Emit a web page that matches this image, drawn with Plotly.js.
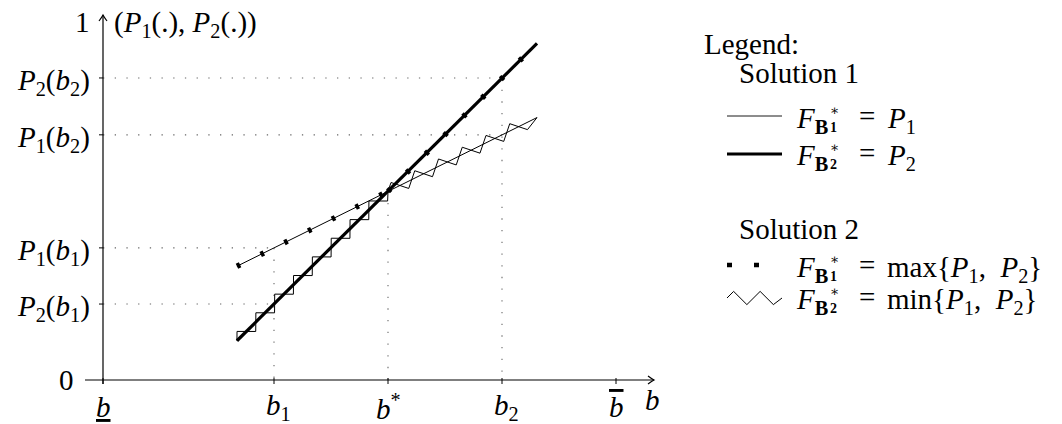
<!DOCTYPE html>
<html><head><meta charset="utf-8">
<script src="https://cdn.plot.ly/plotly-3.0.1.min.js"></script>
<style>html,body{margin:0;padding:0;background:#fff}#chart{width:1062px;height:424px}</style>
</head><body><div id="chart"></div>
<script>
// ---------------- data ----------------
const segB   = [1.175, 2.5, 3.807];        // start, b*, end of drawn lines
const p1Vals = [0.316, 0.524, 0.729];      // P1 at segB
const p2Vals = [0.109, 0.524, 0.935];      // P2 at segB
const xTickVals = [0, 1.5, 2.5, 3.5, 4.5];
const xTickText = ['<u><i>b</i></u>', '<i>b</i><sub>1</sub>', '<i>b</i><sup>*</sup>', '<i>b</i><sub>2</sub>',
                   '<span style="text-decoration:overline"><i>b</i></span>'];
const yTickVals = [0.211, 0.367, 0.681, 0.839];
const yTickText = ['<i>P</i><sub>2</sub>(<i>b</i><sub>1</sub>)', '<i>P</i><sub>1</sub>(<i>b</i><sub>1</sub>)',
                   '<i>P</i><sub>1</sub>(<i>b</i><sub>2</sub>)', '<i>P</i><sub>2</sub>(<i>b</i><sub>2</sub>)'];
const maxVals = segB.map((_, i) => Math.max(p1Vals[i], p2Vals[i]));
const minVals = segB.map((_, i) => Math.min(p1Vals[i], p2Vals[i]));

// ---------------- geometry of the frame ----------------
const W = 1062, H = 424;
const PX0 = 103, UX = 114, PY0 = 380, UY = 360;
const xr = [-PX0 / UX, (W - PX0) / UX];
const yr = [-(H - PY0) / UY, PY0 / UY];
const X = b => PX0 + UX * b, Y = v => PY0 - UY * v;
const Bx = px => (px - PX0) / UX, Vy = py => (PY0 - py) / UY;
const FONT = '"Liberation Serif", "DejaVu Serif", serif';
const FS = 29;

function zigzag(pts, seg, amp) {
  const out = [pts[0]];
  const L = [0];
  for (let i = 1; i < pts.length; i++) L.push(L[i-1] + Math.hypot(pts[i][0]-pts[i-1][0], pts[i][1]-pts[i-1][1]));
  const total = L[L.length-1];
  let k = 0;
  for (let t = seg/4; t <= total - seg/4; t += seg/2, k++) {
    let j = 0; while (j < pts.length-2 && L[j+1] < t) j++;
    const dx = pts[j+1][0]-pts[j][0], dy = pts[j+1][1]-pts[j][1], len = Math.hypot(dx, dy);
    const ux = dx/len, uy = dy/len, nx = uy, ny = -ux, s = (k % 2 === 0) ? 1 : -1;
    out.push([pts[j][0] + ux*(t-L[j]) + nx*amp*s, pts[j][1] + uy*(t-L[j]) + ny*amp*s]);
  }
  out.push(pts[pts.length-1]);
  return out;
}
const ZSEG = 26.5, ZAMP = 6.6;
function zigFromPx(pts) {
  const z = zigzag(pts, ZSEG, ZAMP);
  return {x: z.map(p => Bx(p[0])), y: z.map(p => Vy(p[1])), mode: 'lines', line: {color: '#000', width: 1}};
}
function zigTrace(bs, vs) { return zigFromPx(bs.map((b, i) => [X(b), Y(vs[i])])); }

const traces = [];
// Solution 1
traces.push({x: segB, y: p1Vals, mode: 'lines', line: {color: '#000', width: 1}});
traces.push({x: segB, y: p2Vals, mode: 'lines', line: {color: '#000', width: 3.2}});
// Solution 2 : min as zigzag, max as dashes (two pieces, each restarting at b*)
traces.push(zigTrace(segB.slice(0, 2), minVals.slice(0, 2)));
traces.push(zigTrace(segB.slice(1, 3), minVals.slice(1, 3)));
const dashLine = {color: '#000', width: 5.5, dash: '3.5px,23px'};
traces.push({x: segB.slice(0, 2), y: maxVals.slice(0, 2), mode: 'lines', line: dashLine});
traces.push({x: segB.slice(1, 3), y: maxVals.slice(1, 3), mode: 'lines', line: dashLine});

// legend samples (pixel placed)
const LX0 = 727, LX1 = 782;
traces.push({x: [Bx(LX0), Bx(LX1)], y: [Vy(116), Vy(116)], mode: 'lines', line: {color: '#000', width: 0.9}});
traces.push({x: [Bx(LX0), Bx(LX1)], y: [Vy(154), Vy(154)], mode: 'lines', line: {color: '#000', width: 3}});
traces.push({x: [Bx(LX0), Bx(762)], y: [Vy(265), Vy(265)], mode: 'lines', line: {color: '#000', width: 4.5, dash: '5px,22px'}});
traces.push(zigFromPx([[LX0, 298], [LX1, 298]]));
traces.forEach(t => { t.hoverinfo = 'skip'; t.showlegend = false; });

// ---------------- shapes ----------------
const shapes = [];
const dotted = {color: '#666', width: 1.1, dash: '1.3px,10.4px'};
function dl(x0, y0, x1, y1) { shapes.push({type: 'line', xref: 'x', yref: 'y', x0, y0, x1, y1, line: dotted, layer: 'below'}); }
const b1 = xTickVals[1], bs = xTickVals[2], b2 = xTickVals[3];
const P2b1 = yTickVals[0], P1b1 = yTickVals[1], P1b2 = yTickVals[2], P2b2 = yTickVals[3];
dl(0, P2b2, b2, P2b2); dl(0, P1b2, b2, P1b2); dl(0, P1b1, b1, P1b1); dl(0, P2b1, b1, P2b1);
dl(b1, P1b1, b1, 0); dl(bs, maxVals[1], bs, 0); dl(b2, P2b2, b2, 0);
// axes
const axLine = {color: '#000', width: 1.2};
const xTip = Bx(654), yTip = Vy(15);
shapes.push({type: 'line', xref: 'x', yref: 'y', x0: Bx(85), y0: 0, x1: xTip, y1: 0, line: axLine});
shapes.push({type: 'line', xref: 'x', yref: 'y', x0: 0, y0: Vy(384), x1: 0, y1: yTip, line: axLine});
shapes.push({type: 'path', xref: 'x', yref: 'y', xsizemode: 'pixel', ysizemode: 'pixel', xanchor: xTip, yanchor: 0,
             path: 'M-6,4 Q-2,1 0,0 Q-2,-1 -6,-4', line: axLine});
shapes.push({type: 'path', xref: 'x', yref: 'y', xsizemode: 'pixel', ysizemode: 'pixel', xanchor: 0, yanchor: yTip,
             path: 'M-4,-6 Q-1,-2 0,0 Q1,-2 4,-6', line: axLine});
xTickVals.forEach(v => shapes.push({type: 'line', xref: 'x', yref: 'y', ysizemode: 'pixel', yanchor: 0, x0: v, x1: v, y0: -4, y1: 2, line: {color: '#000', width: 1}}));
yTickVals.forEach(v => shapes.push({type: 'line', xref: 'x', yref: 'y', xsizemode: 'pixel', xanchor: 0, x0: -4, x1: 0, y0: v, y1: v, line: {color: '#000', width: 1}}));

// ---------------- text ----------------
const annotations = [];
function ann(px, py, text, xa, opt) {
  annotations.push(Object.assign({xref: 'paper', yref: 'paper', x: px / W, y: 1 - py / H, text, showarrow: false,
    xanchor: xa || 'left', yanchor: 'middle', borderpad: 0, font: {family: FONT, size: FS, color: '#000'}}, opt || {}));
}
ann(91, 22, '1', 'right');
ann(113, 24, '(<i>P</i><sub>1</sub>(.), <i>P</i><sub>2</sub>(.))', 'left');
ann(75, 380, '0', 'right');
yTickVals.forEach((v, i) => ann(91, Y(v) + 4, yTickText[i], 'right'));
xTickVals.forEach((v, i) => ann(X(v) + (i === 1 || i === 3 ? 4 : 0), 407, xTickText[i], 'center'));
ann(652, 400, '<i>b</i>', 'center');

ann(703, 44, 'Legend:');
ann(738, 73, 'Solution 1');
ann(738, 229, 'Solution 2');
function fEntry(py, idx, rhs) {
  ann(795, py + 4, '<i>F</i><sub><b>B</b></sub>');
  ann(829, py - 6, '∗', 'left', {font: {family: FONT, size: 14, color: '#000'}});
  ann(829, py + 11, '<b>' + idx + '</b>', 'left', {font: {family: FONT, size: 14, color: '#000'}});
  ann(867, py, '=', 'center');
  ann(886, py + 4, rhs);
}
fEntry(116, 1, '<i>P</i><sub>1</sub>');
fEntry(153, 2, '<i>P</i><sub>2</sub>');
fEntry(265, 1, 'max{<i>P</i><sub>1</sub>,  <i>P</i><sub>2</sub>}');
fEntry(297, 2, 'min{<i>P</i><sub>1</sub>,  <i>P</i><sub>2</sub>}');

const layout = {
  width: W, height: H, margin: {l: 0, r: 0, t: 0, b: 0}, paper_bgcolor: '#fff', plot_bgcolor: '#fff',
  font: {family: FONT, size: FS, color: '#000'},
  xaxis: {range: xr, visible: false, fixedrange: true},
  yaxis: {range: yr, visible: false, fixedrange: true},
  showlegend: false, shapes, annotations
};
Plotly.newPlot('chart', traces, layout, {staticPlot: true, displayModeBar: false});
</script></body></html>
